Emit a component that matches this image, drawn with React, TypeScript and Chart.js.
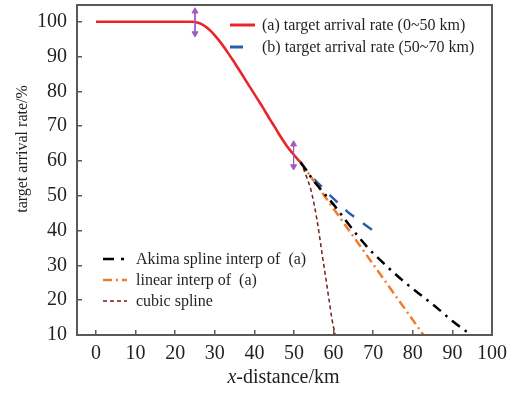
import React, { useEffect, useRef } from 'react';
import { Chart, registerables } from 'chart.js';
Chart.register(...registerables);

// ---- data ----
const xTicks = [0, 10, 20, 30, 40, 50, 60, 70, 80, 90, 100];
const yTicks = [10, 20, 30, 40, 50, 60, 70, 80, 90, 100];

const rateA_x = [0, 5, 10, 15, 20, 24, 25, 26, 27, 28, 29, 30, 31, 32, 33, 34, 35, 36, 37, 38, 39, 40, 41, 42, 43, 44, 45, 46, 47, 48, 49, 50, 51, 51.6];
const rateA_y = [100, 100, 100, 100, 100, 100, 99.9, 99.6, 99.1, 98.3, 97.3, 96.1, 94.7, 93.2, 91.6, 89.9, 88.2, 86.4, 84.6, 82.8, 81.0, 79.2, 77.4, 75.6, 73.7, 71.8, 70, 68.1, 66.3, 64.6, 63.1, 61.7, 60.4, 59.7];

const rateB_x = [51.6, 54.5, 59.3, 63.8, 70.1];
const rateB_y = [59.7, 55.4, 49.9, 45.1, 39.9];

const akima_x = [51.6, 55, 60.4, 64, 68.4, 73, 77.7, 82, 86.1, 90, 92.8, 94.9];
const akima_y = [59.7, 54.3, 46.9, 41.5, 35.4, 30.2, 25.4, 21.5, 17.8, 14, 11.6, 10];

const linear_x = [51.6, 82.7];
const linear_y = [59.7, 10];

const cubic_x = [51.6, 52.5, 53.3, 54.1, 55, 55.8, 56.5, 57.2, 58, 58.8, 59.6, 60.4];
const cubic_y = [59.7, 57.4, 55, 52.4, 48, 43.1, 38, 32.5, 26.5, 20.5, 14.5, 10];

const arrow1_x = [25, 25];
const arrow1_y = [103.0, 96.6];
const arrow2_x = [49.9, 49.9];
const arrow2_y = [64.8, 58.4];

const labels = {
  a: '(a) target arrival rate (0~50 km)',
  b: '(b) target arrival rate (50~70 km)',
  akima: 'Akima spline interp of  (a)',
  linear: 'linear interp of  (a)',
  cubic: 'cubic spline',
};

const pts = (xs: number[], ys: number[]) => xs.map((x, i) => ({ x, y: ys[i] }));

const SERIF = '"Liberation Serif", "Times New Roman", serif';
const TXT = '#231f20';
const AXIS = '#595959';
const RED = '#e8262a';
const BLUE = '#2b5ea8';
const BLACK = '#000000';
const ORANGE = '#ef7d2a';
const BROWN = '#7a1c1c';
const PURPLE = '#a15bbf';

const decorPlugin = {
  id: 'decor',
  afterDraw(chart: any) {
    const { ctx, chartArea } = chart;
    ctx.save();
    // frame
    ctx.strokeStyle = AXIS;
    ctx.lineWidth = 2;
    ctx.strokeRect(chartArea.left, chartArea.top, chartArea.right - chartArea.left, chartArea.bottom - chartArea.top);

    // x title with italic x
    ctx.fillStyle = TXT;
    ctx.textBaseline = 'alphabetic';
    const fI = 'italic 20px ' + SERIF;
    const fN = '20px ' + SERIF;
    ctx.font = fI;
    const w1 = ctx.measureText('x').width;
    ctx.font = fN;
    const w2 = ctx.measureText('-distance/km').width;
    const cx = (chartArea.left + chartArea.right) / 2 - 1;
    const sx = cx - (w1 + w2) / 2;
    ctx.font = fI;
    ctx.textAlign = 'left';
    ctx.fillText('x', sx, 383);
    ctx.font = fN;
    ctx.fillText('-distance/km', sx + w1, 383);

    // y title
    ctx.save();
    ctx.translate(23, 149);
    ctx.rotate(-Math.PI / 2);
    ctx.font = '16px ' + SERIF;
    ctx.textAlign = 'center';
    ctx.textBaseline = 'middle';
    ctx.fillText('target arrival rate/%', 0, 0);
    ctx.restore();

    // legends
    const items = [
      { t: labels.a, c: RED, w: 3, d: [], x0: 230, x1: 255, tx: 262, y: 25 },
      { t: labels.b, c: BLUE, w: 3, d: [13, 20], x0: 230, x1: 255, tx: 262, y: 47 },
      { t: labels.akima, c: BLACK, w: 2.5, d: [11, 7, 3, 10], x0: 103, x1: 127, tx: 136, y: 259 },
      { t: labels.linear, c: ORANGE, w: 2.5, d: [9, 4, 2, 4], x0: 103, x1: 127, tx: 136, y: 280 },
      { t: labels.cubic, c: BROWN, w: 1.5, d: [4, 3], x0: 103, x1: 127, tx: 136, y: 301 },
    ];
    items.forEach((it) => {
      ctx.beginPath();
      ctx.setLineDash(it.d);
      ctx.strokeStyle = it.c;
      ctx.lineWidth = it.w;
      ctx.moveTo(it.x0, it.y);
      ctx.lineTo(it.x1, it.y);
      ctx.stroke();
      ctx.setLineDash([]);
      ctx.font = '16px ' + SERIF;
      ctx.fillStyle = TXT;
      ctx.textAlign = 'left';
      ctx.textBaseline = 'middle';
      ctx.fillText(it.t, it.tx, it.y + 1);
    });
    ctx.restore();
  },
};

export default function App() {
  const ref = useRef<HTMLCanvasElement | null>(null);
  useEffect(() => {
    if (!ref.current) return;
    const line = (data: any, color: string, width: number, dash: number[], extra: any = {}) => ({
      data,
      borderColor: color,
      backgroundColor: color,
      borderWidth: width,
      borderDash: dash,
      pointRadius: 0,
      fill: false,
      showLine: true,
      ...extra,
    });
    const arrow = (data: any) => ({
      data,
      borderColor: PURPLE,
      backgroundColor: PURPLE,
      borderWidth: 1,
      pointStyle: 'triangle',
      pointRadius: 3.5,
      pointRotation: [0, 180],
      showLine: true,
      clip: false,
    });
    const chart = new Chart(ref.current, {
      type: 'line',
      data: {
        datasets: [
          arrow(pts(arrow1_x, arrow1_y)),
          arrow(pts(arrow2_x, arrow2_y)),
          line(pts(rateA_x, rateA_y), RED, 2.6, [], { cubicInterpolationMode: 'monotone', label: labels.a }),
          line(pts(akima_x, akima_y), BLACK, 2.5, [10, 6, 2.5, 6], { cubicInterpolationMode: 'monotone', label: labels.akima }),
          line(pts(linear_x, linear_y), ORANGE, 2.5, [9, 4, 2, 4], { label: labels.linear }),
          line(pts(rateB_x, rateB_y), BLUE, 2.5, [11, 11], { label: labels.b }),
          line(pts(cubic_x, cubic_y), BROWN, 1.5, [4, 3], { cubicInterpolationMode: 'monotone', label: labels.cubic }),
        ],
      },
      options: {
        animation: false,
        responsive: true,
        maintainAspectRatio: false,
        layout: { padding: { left: 0, top: 4, right: 30, bottom: 0 } },
        plugins: { legend: { display: false }, tooltip: { enabled: false } },
        scales: {
          x: {
            type: 'linear',
            min: -4.8,
            max: 100,
            afterBuildTicks: (s: any) => { s.ticks = xTicks.map((v) => ({ value: v })); },
            afterFit: (s: any) => { s.height = 59; s.paddingLeft = 0; s.paddingRight = 0; s.paddingTop = 0; s.paddingBottom = 0; },
            border: { display: false },
            grid: { display: true, drawOnChartArea: false, drawTicks: true, tickLength: -5, tickColor: AXIS, lineWidth: 1.5 },
            ticks: { font: { family: SERIF, size: 20 }, color: TXT, padding: 12, maxRotation: 0 },
          },
          y: {
            type: 'linear',
            min: 10,
            max: 104.8,
            afterBuildTicks: (s: any) => { s.ticks = yTicks.map((v) => ({ value: v })); },
            afterFit: (s: any) => { s.width = 77; s.paddingLeft = 0; s.paddingRight = 0; s.paddingTop = 0; s.paddingBottom = 0; },
            border: { display: false },
            grid: { display: true, drawOnChartArea: false, drawTicks: true, tickLength: -5, tickColor: AXIS, lineWidth: 1.5 },
            ticks: { font: { family: SERIF, size: 20 }, color: TXT, padding: 15 },
          },
        },
      },
      plugins: [decorPlugin],
    } as any);
    return () => chart.destroy();
  }, []);
  return (
    <div style={{ position: 'absolute', left: 0, top: 0, width: 522, height: 394, background: '#fff' }}>
      <canvas ref={ref} />
    </div>
  );
}
